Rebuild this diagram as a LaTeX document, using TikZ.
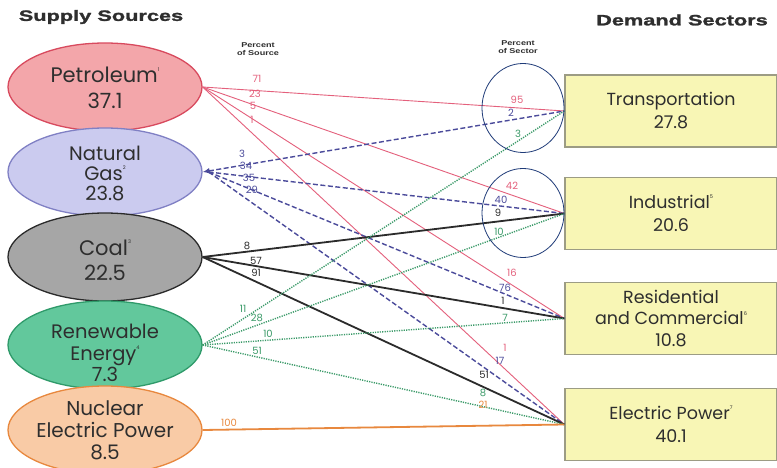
\documentclass[tikz,border=0pt]{standalone}
\usepackage{fontspec}
\setmainfont{Poppins}
\newfontfamily\titlefont[FakeStretch=1.45,FakeBold=1.6]{Liberation Sans}
\newfontfamily\smallfont[FakeStretch=1.3]{Liberation Sans}
\usetikzlibrary{shapes.geometric,arrows.meta}
\definecolor{petfill}{HTML}{F3A6AA}
\definecolor{petdraw}{HTML}{D84A5E}
\definecolor{petline}{HTML}{E4607C}
\definecolor{gasfill}{HTML}{CBCBEF}
\definecolor{gasdraw}{HTML}{8080C4}
\definecolor{gasline}{HTML}{4B4B9B}
\definecolor{coalfill}{HTML}{A6A6A6}
\definecolor{coaldraw}{HTML}{2B2B2B}
\definecolor{renfill}{HTML}{62C89C}
\definecolor{rendraw}{HTML}{2F9A6A}
\definecolor{renline}{HTML}{3A9A68}
\definecolor{nucfill}{HTML}{F9CBA6}
\definecolor{nucdraw}{HTML}{E8883E}
\definecolor{boxfill}{HTML}{F8F6B5}
\definecolor{boxdraw}{HTML}{9C9C84}
\definecolor{textc}{HTML}{2E2E2E}
\definecolor{circc}{HTML}{1F3B78}
\newcommand{\supmark}[1]{\raisebox{0.55em}{\fontsize{5}{5}\selectfont #1}}
\begin{document}
\begin{tikzpicture}[x=1pt,y=-1pt,
  source/.style={ellipse,minimum width=194pt,minimum height=88pt,inner sep=0pt,line width=1.3pt},
  srctext/.style={align=center,text=textc,inner sep=0pt},
  sector/.style={rectangle,draw=boxdraw,fill=boxfill,line width=1.2pt,minimum width=212pt,minimum height=72pt,inner sep=0pt,align=center,text=textc,font=\fontsize{17.5}{23}\selectfont},
  title/.style={font=\titlefont\bfseries\fontsize{15}{15}\selectfont,text=textc,inner sep=0pt},
  small/.style={font=\smallfont\bfseries\fontsize{7}{8.5}\selectfont,align=center,text=textc,inner sep=0pt},
  lab/.style={font=\fontsize{10}{10}\selectfont,inner sep=0pt},
  petl/.style={draw=petline,line width=0.9pt},
  gasl/.style={draw=gasline,line width=1.4pt,dash pattern=on 5pt off 2.5pt},
  coall/.style={draw=coaldraw,line width=1.8pt},
  renl/.style={draw=renline,line width=1.4pt,dash pattern=on 1.2pt off 1.2pt},
  nucl/.style={draw=nucdraw,line width=1.8pt},
  circ/.style={draw=circc,line width=0.8pt,ellipse,minimum width=82pt,minimum height=89pt,inner sep=0pt}
]
\useasboundingbox (0,0) rectangle (777,468);
\fill[white] (0,0) rectangle (777,468);

% titles
\node[title] (st) at (101,17) {Supply Sources};
\node[title] (dt) at (682,20) {Demand Sectors};
\node[small] (ps) at (258,49) {Percent\\of Source};
\node[small] (pse) at (518,47) {Percent\\of Sector};

% sources
\node[source,draw=petdraw,fill=petfill] (pet) at (105,87) {};
\node[source,draw=gasdraw,fill=gasfill] (gas) at (105,172) {};
\node[source,draw=coaldraw,fill=coalfill] (coal) at (105,257) {};
\node[source,draw=rendraw,fill=renfill] (ren) at (105,345) {};
\node[source,draw=nucdraw,fill=nucfill] (nuc) at (105,430) {};

\node[srctext,font=\fontsize{21}{26}\selectfont] (petT) at (105,88) {Petroleum\supmark{1}\\37.1};
\node[srctext,font=\fontsize{19.5}{20}\selectfont] (gasT) at (105,173) {Natural\\Gas\supmark{2}\\23.8};
\node[srctext,font=\fontsize{21}{25}\selectfont] (coalT) at (105,260) {Coal\supmark{3}\\22.5};
\node[srctext,font=\fontsize{19.5}{21.5}\selectfont] (renT) at (105,353) {Renewable\\Energy\supmark{4}\\7.3};
\node[srctext,font=\fontsize{20}{22}\selectfont] (nucT) at (105,430) {Nuclear\\Electric Power\\8.5};

% sectors
\node[sector] (trans) at (671,111) {Transportation\\27.8};
\node[sector] (ind) at (671,213.5) {Industrial\supmark{5}\\20.6};
\node[sector,font=\fontsize{17.5}{21.5}\selectfont] (res) at (671,318.5) {Residential\\and Commercial\supmark{6}\\10.8};
\node[sector] (elec) at (671,424.5) {Electric Power\supmark{7}\\40.1};

% connectors
\draw[petl] (pet.east) -- (trans.west);
\draw[petl] (pet.east) -- (ind.west);
\draw[petl] (pet.east) -- (res.west);
\draw[petl] (pet.east) -- (elec.west);

\draw[gasl,{Latex[length=7pt,width=6pt]}-] (gas.east) -- (trans.west);
\draw[gasl] ([xshift=6pt]gas.east) -- (ind.west);
\draw[gasl] ([xshift=6pt]gas.east) -- (res.west);
\draw[gasl] ([xshift=6pt]gas.east) -- (elec.west);

\draw[coall] (coal.east) -- (ind.west);
\draw[coall] (coal.east) -- (res.west);
\draw[coall] (coal.east) -- (elec.west);

\draw[renl] (ren.east) -- (trans.west);
\draw[renl] (ren.east) -- (ind.west);
\draw[renl] (ren.east) -- (res.west);
\draw[renl] (ren.east) -- (elec.west);

\draw[nucl] (nuc.east) -- (elec.west);

% percent of source labels
\node[lab,text=petline] (p1) at (257,79) {71};
\node[lab,text=petline] (p2) at (255,94) {23};
\node[lab,text=petline] (p3) at (253,106) {5};
\node[lab,text=petline] (p4) at (252,120) {1};

\node[lab,text=gasline] (g1) at (242,154) {3};
\node[lab,text=gasline] (g2) at (246,166) {34};
\node[lab,text=gasline] (g3) at (249,178) {35};
\node[lab,text=gasline] (g4) at (252,190) {29};

\node[lab,text=coaldraw] (c1) at (247,246) {8};
\node[lab,text=coaldraw] (c2) at (256,261) {57};
\node[lab,text=coaldraw] (c3) at (256,273) {91};

\node[lab,text=renline] (r1) at (243,309) {11};
\node[lab,text=renline] (r2) at (257,318) {28};
\node[lab,text=renline] (r3) at (268,334) {10};
\node[lab,text=renline] (r4) at (257,351) {51};

\node[lab,text=nucdraw] (n1) at (229,423) {100};

% percent of sector labels
\node[lab,text=petline] (s1) at (517,100) {95};
\node[lab,text=gasline] (s2) at (511,113) {2};
\node[lab,text=renline] (s3) at (518,134) {3};

\node[lab,text=petline] (s4) at (512,186) {42};
\node[lab,text=gasline] (s5) at (501,200) {40};
\node[lab,text=coaldraw] (s6) at (498,213) {9};
\node[lab,text=renline] (s7) at (499,232) {10};

\node[lab,text=petline] (s8) at (512,273) {16};
\node[lab,text=gasline] (s9) at (505,288) {76};
\node[lab,text=coaldraw] (s10) at (503,301) {1};
\node[lab,text=renline] (s11) at (505,318) {7};

\node[lab,text=petline] (s12) at (505,348) {1};
\node[lab,text=gasline] (s13) at (500,361) {17};
\node[lab,text=coaldraw] (s14) at (484,375) {51};
\node[lab,text=renline] (s15) at (483,393) {8};
\node[lab,text=nucdraw] (s16) at (483,405) {21};

% annotation circles
\node[circ] (ca) at (523,108) {};
\node[circ] (cb) at (523,213) {};
\end{tikzpicture}
\end{document}
